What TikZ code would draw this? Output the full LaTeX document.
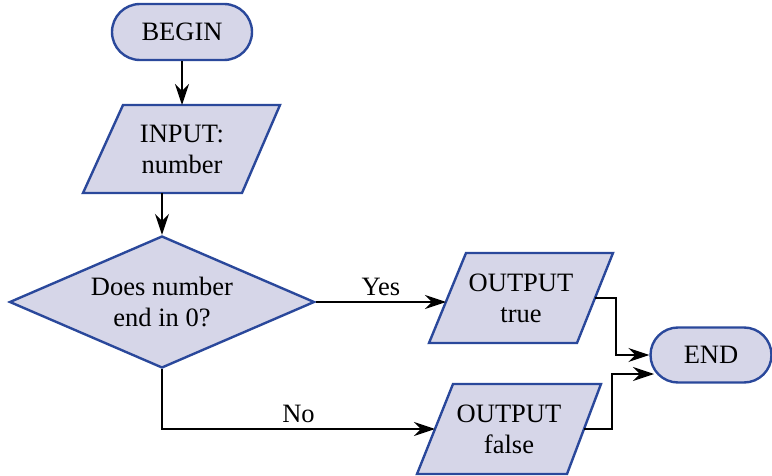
\documentclass[tikz,border=0pt]{standalone}
\usepackage{fontspec}
\setmainfont{Liberation Serif}
\usetikzlibrary{shapes.geometric,shapes.misc,arrows.meta}
\definecolor{boxfill}{RGB}{214,214,232}
\definecolor{boxline}{RGB}{42,72,155}
\tikzset{
  txt/.style={font=\fontsize{26.5}{31}\selectfont, align=center, text=black},
  term/.style={txt, rounded rectangle, draw=boxline, fill=boxfill, line width=2.4pt, inner sep=0pt},
  decbox/.style={txt, diamond, shape aspect=2.31, draw=boxline, fill=boxfill, line width=2.4pt, inner sep=0pt},
  parabox/.style={draw=boxline, fill=boxfill, line width=2.4pt, line join=miter},
  conn/.style={draw=black, line width=1.3pt, -{Stealth[length=21pt,width=14pt,inset=7pt]}},
  lbl/.style={txt}
}
\begin{document}
\begin{tikzpicture}[x=1pt,y=-1pt]
\useasboundingbox (0,0) rectangle (772,476);
% terminals
\node[term, minimum width=140pt, minimum height=56pt] (begin) at (182,32) {BEGIN};
\node[term, minimum width=121pt, minimum height=55pt] (end) at (711,355) {END};
% decision
\node[decbox, minimum width=305pt, minimum height=132pt] (dec) at (162,302) {Does number\\end in 0?};
% input parallelogram
\draw[parabox] (123,105) -- (280,105) -- (242,193) -- (83,193) -- cycle;
\node[txt] (input) at (182,149) {INPUT:\\number};
\coordinate (inT) at (182,105);
\coordinate (inB) at (162,193);
% output true
\draw[parabox] (466,253) -- (613,253) -- (577,343) -- (429,343) -- cycle;
\node[txt] (otrue) at (521,298) {OUTPUT\\true};
\coordinate (otL) at (446,302);
\coordinate (otR) at (595,298);
% output false
\draw[parabox] (453,384) -- (601,384) -- (567,474) -- (417,474) -- cycle;
\node[txt] (ofalse) at (509,429) {OUTPUT\\false};
\coordinate (ofL) at (435,429);
\coordinate (ofR) at (584,429);
\coordinate (endL) at (654,374);
% connectors
\draw[conn] (begin.south) -- (inT);
\draw[conn] (inB) -- (dec.north);
\draw[conn] (dec.east) -- node[lbl, above=2pt] (yes) {Yes} (otL);
\draw[conn] (dec.south) |- node[lbl, pos=0.75, above=2pt] (no) {No} (ofL);
\draw[conn] (otR) -- (616,298) |- (end.west);
\draw[conn] (ofR) -- (612,429) |- (endL);
\end{tikzpicture}
\end{document}
